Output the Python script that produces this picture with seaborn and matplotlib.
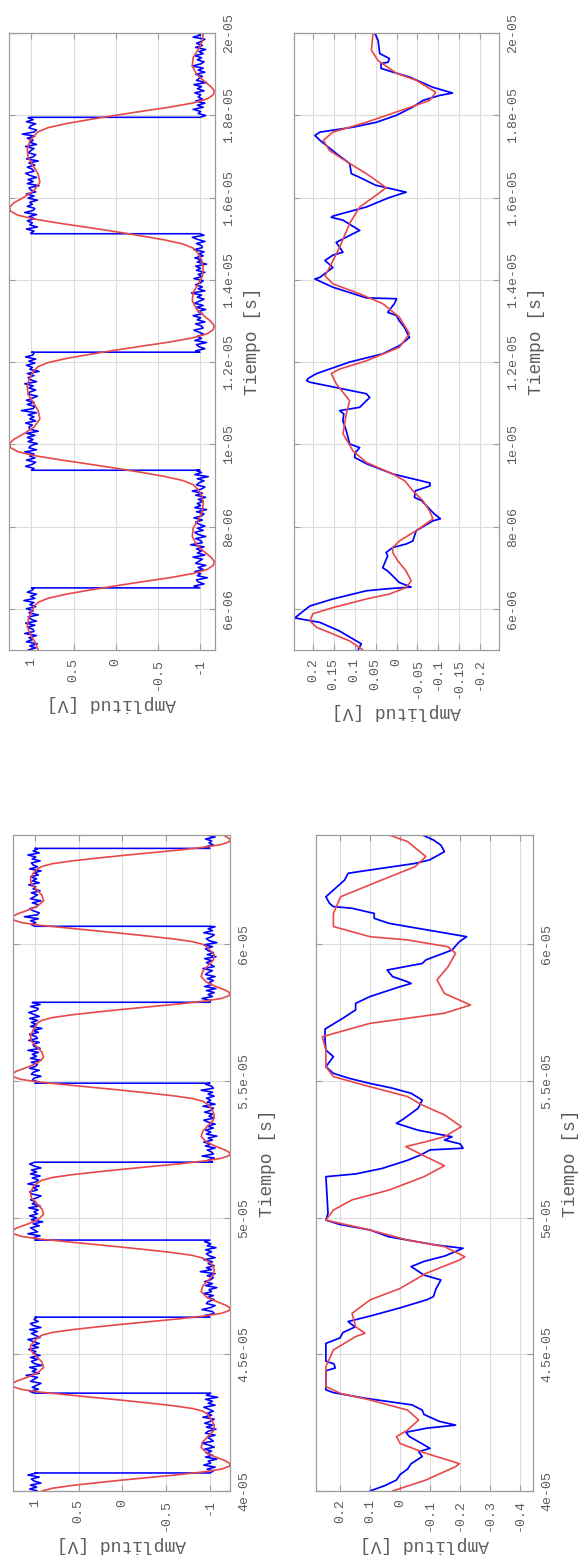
import numpy as np
import matplotlib
matplotlib.use("Agg")
import matplotlib.pyplot as plt
from matplotlib.ticker import FixedLocator, FixedFormatter
import seaborn as sns

# ---------------- data (times in microseconds, amplitudes in volts) ----------------
# square-wave record, 5..20 us: edge times and ripple (hundredths of a volt)
flancos_c = [6.51, 9.37, 12.24, 15.12, 17.95]
ruido_c = [4, -5, 2, -7, 6, -1, 3, -6, 8, -3, -2, 5, -4, 7, -6, 1, 4, -8, 3, -2, 6, -5, 2, -3, 9, -4, 1, -6, 5, -1,
           -3, 7, -5, 2, 4, -9, 3, -1, 6, -4, 2, -7, 5, 1, -3, 8, -6, 3, -2, 4, -5, 11, -3, -1, 5, -7, 2, 6, -4, 3,
           -6, 1, 5, -3, 7, -2, -5, 4, -8, 6, -1, 3, -4, 2, -7, 5, -3, 9, -2, -6, 4, 1, -5, 3, -10, 6, -2, 4, -3, 7,
           -1, -5, 6, -4, 2, -3, 8, -6, 3, 1, -7, 4, -2, 5, -4, 6, -8, 2, 3, -1, 7, -5, 2, -3, 4, -6, 12, -2, -4, 5,
           -3, 6, -1, -7, 4, 2, -5, 3, -2, 8, -6, 1, 4, -3, 5, -9, 2, -1, 6, -4, 3, -5, 7, -2, -3, 5, -6, 1, 4, -8,
           6, -2, 3, -5, 1, 7, -4, -2, 5, -6, 3, -1, 8, -3, 2, -7, 4, -4, 6, 1, -5, 3, -2, 10, -6, 2, -3, 5, -1, -4,
           7, -3, 2, -6, 4, -1, 5, -8, 3, -2, 6, -4, 1, -5, 7, -3, -2, 4, -6, 3, 9, -5, 1, -3, 6, -7, 2, -1, 5, -4,
           3, -6, 8, -2, -4, 5, -1, 2, -7, 4, -3, 6, -5, 1, 3, -9, 5, -2, 4, -6, 2, 7, -3, -1, 5, -4, 3, -8, 6, -2,
           -5, 4, 1, -3, 7, -6, 2, -2, 5, -4, 11, -3, -6, 3, 1, -5, 6, -2, 4, -7, 2, -1, 8, -4, 3, -6, 5, -3, 2, -1,
           6, -5, 3, -2, 7, -8, 4, 1, -3, 5, -6, 2, -4, 9, -1, -5, 3, -2, 6, -4, 1, -7, 5, -3, 4, -2, -6, 8, -1, 3]
t_rojo_c = [5.0, 5.2, 5.4, 5.6, 5.8,
            6.06, 6.16, 6.26, 6.36, 6.46, 6.56, 6.66, 6.76, 6.86, 6.96, 7.06, 7.16, 7.26, 7.41, 7.56, 7.76, 7.96, 8.16, 8.36, 8.56, 8.76,
            8.92, 9.02, 9.12, 9.22, 9.32, 9.42, 9.52, 9.62, 9.72, 9.82, 9.92, 10.02, 10.12, 10.27, 10.42, 10.62, 10.82, 11.02, 11.22, 11.42, 11.62,
            11.79, 11.89, 11.99, 12.09, 12.19, 12.29, 12.39, 12.49, 12.59, 12.69, 12.79, 12.89, 12.99, 13.14, 13.29, 13.49, 13.69, 13.89, 14.09, 14.29, 14.49,
            14.67, 14.77, 14.87, 14.97, 15.07, 15.17, 15.27, 15.37, 15.47, 15.57, 15.67, 15.77, 15.87, 16.02, 16.17, 16.37, 16.57, 16.77, 16.97, 17.17, 17.37,
            17.50, 17.60, 17.70, 17.80, 17.90, 18.00, 18.10, 18.20, 18.30, 18.40, 18.50, 18.60, 18.70, 18.85, 19.00, 19.20, 19.40, 19.60, 19.80, 20.00]
v_rojo_c = [0.92, 0.96, 1.02, 1.05, 1.03,
            0.97, 0.92, 0.80, 0.58, 0.30, 0.0, -0.32, -0.65, -0.92, -1.09, -1.16, -1.17, -1.13, -1.04, -0.96, -0.91, -0.92, -0.98, -1.03, -1.04, -1.02,
            -0.97, -0.92, -0.80, -0.58, -0.30, 0.0, 0.32, 0.65, 0.95, 1.16, 1.25, 1.26, 1.21, 1.08, 0.97, 0.90, 0.92, 0.98, 1.04, 1.05, 1.02,
            0.97, 0.92, 0.80, 0.58, 0.30, 0.0, -0.32, -0.65, -0.92, -1.09, -1.16, -1.17, -1.13, -1.04, -0.96, -0.91, -0.92, -0.98, -1.03, -1.04, -1.02,
            -0.97, -0.92, -0.80, -0.58, -0.30, 0.0, 0.32, 0.65, 0.95, 1.16, 1.25, 1.26, 1.21, 1.08, 0.97, 0.90, 0.92, 0.98, 1.04, 1.05, 1.02,
            0.97, 0.92, 0.80, 0.58, 0.30, 0.0, -0.32, -0.65, -0.92, -1.09, -1.16, -1.17, -1.13, -1.04, -0.96, -0.91, -0.92, -0.98, -1.03, -1.04]

# low-level record, 5..20 us
t_azul_d = [5.0, 5.15, 5.22, 5.46, 5.67, 5.78, 5.88, 6.07, 6.24, 6.44, 6.49, 6.53, 6.64, 6.92, 7.0, 7.29, 7.37, 7.49, 7.58, 7.65,
            7.9, 8.14, 8.19, 8.31, 8.45, 8.63, 8.71, 8.87, 8.99, 9.06, 9.11, 9.28, 9.53, 9.68, 9.79, 9.92, 10.01, 10.33, 10.57, 10.74,
            10.82, 10.9, 11.14, 11.23, 11.51, 11.55, 11.61, 11.72, 12.0, 12.2, 12.4, 12.6, 12.84, 13.0, 13.13, 13.21, 13.42, 13.54, 13.56, 13.82,
            14.02, 14.06, 14.3, 14.47, 14.6, 14.67, 14.91, 15.12, 15.2, 15.45, 15.52, 15.55, 15.77, 16.0, 16.13, 16.3, 16.49, 16.58, 16.83, 17.07,
            17.39, 17.51, 17.59, 17.71, 17.83, 18.0, 18.2, 18.36, 18.48, 18.54, 18.68, 18.93, 19.05, 19.14, 19.26, 19.29, 19.38, 19.5, 19.82, 20.0]
v_azul_d = [0.092, 0.084, 0.096, 0.136, 0.183, 0.243, 0.231, 0.207, 0.152, 0.072, 0.02, -0.035, -0.007, 0.021, 0.033, 0.021, 0.025, 0.009, -0.024, -0.039,
            -0.047, -0.087, -0.105, -0.09, -0.077, -0.06, -0.043, -0.045, -0.08, -0.08, -0.06, 0.009, 0.072, 0.10, 0.099, 0.088, 0.112, 0.12, 0.128, 0.126,
            0.136, 0.088, 0.064, 0.072, 0.207, 0.215, 0.21, 0.191, 0.112, 0.033, -0.007, -0.031, -0.019, -0.007, 0.0, 0.021, 0.005, 0.0, 0.072, 0.152,
            0.195, 0.183, 0.152, 0.171, 0.152, 0.128, 0.144, 0.104, 0.088, 0.128, 0.156, 0.152, 0.072, 0.017, -0.023, 0.05, 0.088, 0.108, 0.112, 0.144,
            0.183, 0.195, 0.183, 0.104, 0.048, 0.0, -0.039, -0.063, -0.102, -0.134, -0.087, -0.031, 0.009, 0.037, 0.037, 0.02, 0.017, 0.04, 0.044, 0.052]
t_rojo_d = [5.0, 5.22, 5.39, 5.55, 5.71, 5.88, 6.03, 6.24, 6.36, 6.52, 6.68, 6.92, 7.17, 7.37, 7.49, 7.65, 7.9, 8.19, 8.38, 8.63,
            8.87, 9.11, 9.28, 9.56, 9.84, 10.26, 10.74, 11.06, 11.47, 11.72, 11.83, 12.03, 12.36, 12.69, 13.09, 13.42, 13.66, 13.9, 14.1, 14.3,
            14.79, 15.37, 15.77, 16.09, 16.24, 16.41, 16.58, 16.83, 17.14, 17.39, 17.59, 17.83, 18.16, 18.36, 18.56, 18.85, 19.02, 19.33, 19.58, 20.0]
v_rojo_d = [0.080, 0.112, 0.152, 0.191, 0.207, 0.200, 0.152, 0.072, 0.017, -0.023, -0.035, -0.023, -0.003, 0.009, 0.009, -0.007, -0.047, -0.087, -0.079, -0.063,
            -0.039, -0.020, 0.009, 0.072, 0.104, 0.128, 0.120, 0.112, 0.144, 0.156, 0.136, 0.072, -0.007, -0.031, -0.007, 0.033, 0.088, 0.152, 0.171, 0.160,
            0.136, 0.112, 0.088, 0.044, 0.025, 0.048, 0.072, 0.112, 0.160, 0.175, 0.152, 0.072, -0.023, -0.079, -0.094, -0.047, 0.000, 0.044, 0.060, 0.056]

# square-wave record, 40..64 us: edge times and ripple (hundredths of a volt)
flancos_a = [40.66, 43.58, 46.36, 49.18, 52.03, 54.92, 57.88, 60.66, 63.51]
ruido_a = [-3, 6, -2, 5, -7, 1, 4, -5, 8, -2, -4, 3, -6, 7, -1, 2, -8, 5, -3, 4, -2, 6, -5, 1, 9, -4, -1, 3, -6, 5,
           2, -7, 4, -3, 6, -1, -5, 8, -2, 3, -4, 1, 7, -6, 2, -3, 5, -9, 4, -1, 6, -4, 3, -2, -7, 5, 1, -3, 10, -5,
           3, -2, 6, -8, 1, 4, -3, 5, -6, 2, -1, 7, -4, 3, -5, 2, 8, -6, -1, 4, -3, 6, -7, 2, 5, -4, 1, -2, 6, -5,
           -3, 9, -1, -6, 4, 2, -5, 3, -4, 7, -2, 1, -8, 5, -3, 6, -1, -4, 3, -6, 11, -2, 4, -5, 2, -3, 7, -6, 1, 4,
           -2, 5, -7, 3, -1, 6, -4, 2, -6, 8, -3, 1, 5, -5, 2, -9, 4, -2, 6, -3, 1, -4, 7, -6, 3, -1, 5, -2, -7, 4,
           6, -3, 2, -5, 8, -1, -4, 3, -6, 5, -2, 4, -7, 1, 6, -3, 2, -5, 9, -4, -2, 3, -6, 5, -1, 7, -3, 2, -8, 4,
           -1, 5, -4, 3, -6, 2, 7, -5, 1, -3, 6, -2, -4, 8, -6, 3, -1, 4, -5, 2, -3, 10, -4, -2, 5, -6, 3, 1, -7, 4,
           2, -5, 6, -1, -3, 4, -7, 5, -2, 3, -4, 8, -6, 1, 2, -5, 7, -3, -1, 6, -4, 2, -8, 5, -2, 4, -3, 6, -5, 1,
           7, -2, -4, 5, -6, 3, -1, 9, -3, 2, -5, 4, -7, 6, -2, 1, -4, 3, -6, 5, 2, -3, 8, -5, -1, 4, -2, 6, -7, 3,
           -4, 2, 5, -3, 6, -8, 1, 4, -2, -5, 7, -3, 2, -6, 4, -1, 5, -4, 12, -3, -5, 2, 6, -2, -4, 3, -7, 5, 1, -3,
           4, -6, 2, -1, 7, -5, 3, -2, 5, -4, 1, -7, 6, -3, 2, 4, -6, 3, -1, 8, -5, 2, -3, 6, -4, 1, -2, 5, -6, 3]
t_rojo_a = [40.0, 40.1, 40.2, 40.3, 40.4, 40.5, 40.6, 40.7, 40.8, 40.9, 41.0, 41.1, 41.25, 41.4, 41.6, 41.8, 42.0, 42.2, 42.4, 42.6,
            42.82, 42.92, 43.02, 43.12, 43.22, 43.32, 43.42, 43.52, 43.62, 43.72, 43.82, 43.92, 44.02, 44.17, 44.32, 44.52, 44.72, 44.92, 45.12, 45.32,
            45.60, 45.70, 45.80, 45.90, 46.00, 46.10, 46.20, 46.30, 46.40, 46.50, 46.60, 46.70, 46.80, 46.95, 47.10, 47.30, 47.50, 47.70, 47.90, 48.10, 48.30,
            48.42, 48.52, 48.62, 48.72, 48.82, 48.92, 49.02, 49.12, 49.22, 49.32, 49.42, 49.52, 49.62, 49.77, 49.92, 50.12, 50.32, 50.52, 50.72, 50.92, 51.12,
            51.27, 51.37, 51.47, 51.57, 51.67, 51.77, 51.87, 51.97, 52.07, 52.17, 52.27, 52.37, 52.47, 52.62, 52.77, 52.97, 53.17, 53.37, 53.57, 53.77, 53.97,
            54.16, 54.26, 54.36, 54.46, 54.56, 54.66, 54.76, 54.86, 54.96, 55.06, 55.16, 55.26, 55.36, 55.51, 55.66, 55.86, 56.06, 56.26, 56.46, 56.66, 56.86,
            57.12, 57.22, 57.32, 57.42, 57.52, 57.62, 57.72, 57.82, 57.92, 58.02, 58.12, 58.22, 58.32, 58.47, 58.62, 58.82, 59.02, 59.22, 59.42, 59.62,
            59.90, 60.00, 60.10, 60.20, 60.30, 60.40, 60.50, 60.60, 60.70, 60.80, 60.90, 61.00, 61.10, 61.25, 61.40, 61.60, 61.80, 62.00, 62.20, 62.40, 62.60,
            62.75, 62.85, 62.95, 63.05, 63.15, 63.25, 63.35, 63.45, 63.55, 63.65, 63.75, 63.85, 63.95, 64.0]
v_rojo_a = [0.92, 0.80, 0.58, 0.30, 0.0, -0.32, -0.65, -0.93, -1.13, -1.22, -1.23, -1.18, -1.06, -0.96, -0.90, -0.92, -0.98, -1.04, -1.05, -1.02,
            -0.97, -0.92, -0.80, -0.58, -0.30, 0.0, 0.32, 0.65, 0.95, 1.16, 1.25, 1.26, 1.21, 1.08, 0.97, 0.90, 0.92, 0.98, 1.04, 1.05,
            0.97, 0.92, 0.80, 0.58, 0.30, 0.0, -0.32, -0.65, -0.93, -1.13, -1.22, -1.23, -1.18, -1.06, -0.96, -0.90, -0.92, -0.98, -1.04, -1.05, -1.02,
            -0.97, -0.92, -0.80, -0.58, -0.30, 0.0, 0.32, 0.65, 0.95, 1.16, 1.25, 1.26, 1.21, 1.08, 0.97, 0.90, 0.92, 0.98, 1.04, 1.05, 1.02,
            0.97, 0.92, 0.80, 0.58, 0.30, 0.0, -0.32, -0.65, -0.93, -1.13, -1.22, -1.23, -1.18, -1.06, -0.96, -0.90, -0.92, -0.98, -1.04, -1.05, -1.02,
            -0.97, -0.92, -0.80, -0.58, -0.30, 0.0, 0.32, 0.65, 0.95, 1.16, 1.25, 1.26, 1.21, 1.08, 0.97, 0.90, 0.92, 0.98, 1.04, 1.05, 1.02,
            0.97, 0.92, 0.80, 0.58, 0.30, 0.0, -0.32, -0.65, -0.93, -1.13, -1.22, -1.23, -1.18, -1.06, -0.96, -0.90, -0.92, -0.98, -1.04, -1.05,
            -0.97, -0.92, -0.80, -0.58, -0.30, 0.0, 0.32, 0.65, 0.95, 1.16, 1.25, 1.26, 1.21, 1.08, 0.97, 0.90, 0.92, 0.98, 1.04, 1.05, 1.02,
            0.97, 0.92, 0.80, 0.58, 0.30, 0.0, -0.32, -0.65, -0.93, -1.13, -1.22, -1.23, -1.18, -1.15]

# low-level record, 40..64 us
t_azul_b = [40.0, 40.2, 40.4, 40.6, 40.8, 41.0, 41.26, 41.44, 41.56, 41.75, 42.0, 42.15, 42.3, 42.41, 42.55, 42.8, 42.96, 43.15, 43.4, 43.6,
            43.7, 44.4, 44.5, 44.65, 44.75, 45.4, 45.6, 45.8, 46.0, 46.2, 46.4, 46.7, 47.0, 47.11, 47.4, 47.72, 47.9, 48.21, 48.4, 48.6,
            48.88, 49.0, 49.3, 49.55, 49.75, 49.91, 50.16, 51.5, 51.6, 51.8, 52.1, 52.3, 52.48, 52.54, 52.7, 52.84, 52.96, 53.2, 53.45, 53.6,
            54.0, 54.3, 54.55, 54.75, 54.91, 55.1, 55.28, 55.52, 55.89, 56.13, 56.5, 56.9, 57.1, 57.3, 57.6, 57.84, 58.09, 58.45, 58.57, 58.63,
            58.82, 59.06, 59.3, 59.43, 59.79, 60.1, 60.28, 60.65, 60.77, 60.95, 61.13, 61.32, 61.38, 61.5, 61.74, 62.35, 62.6, 62.72, 62.96, 63.09,
            63.39, 63.63, 63.82, 64.0]
v_azul_b = [0.10, 0.05, 0.012, 0.0, -0.025, -0.037, -0.074, -0.062, -0.10, -0.07, -0.03, -0.02, -0.09, -0.185, -0.13, -0.08, -0.074, -0.04, 0.12, 0.222,
            0.247, 0.247, 0.216, 0.22, 0.247, 0.247, 0.20, 0.19, 0.15, 0.173, 0.10, 0.0, -0.09, -0.111, -0.12, -0.136, -0.08, -0.037, -0.08, -0.15,
            -0.21, -0.12, 0.037, 0.10, 0.2, 0.247, 0.24, 0.247, 0.148, 0.06, -0.025, -0.07, -0.10, -0.21, -0.20, -0.148, -0.173, -0.06, 0.012, -0.01,
            -0.06, -0.074, -0.037, 0.03, 0.10, 0.17, 0.222, 0.247, 0.222, 0.247, 0.25, 0.25, 0.22, 0.19, 0.148, 0.148, 0.10, 0.0, -0.037, -0.025,
            0.025, 0.043, -0.074, -0.086, -0.173, -0.198, -0.222, -0.025, 0.037, 0.086, 0.086, 0.16, 0.222, 0.235, 0.247, 0.185, 0.173, 0.10, -0.05, -0.099,
            -0.148, -0.136, -0.111, -0.074]
t_rojo_b = [40.0, 40.4, 40.89, 41.0, 41.38, 41.74, 41.99, 42.23, 42.6, 42.96, 43.33, 43.57, 43.82, 44.55, 45.16, 45.65, 45.77, 46.01, 46.5, 46.99,
            47.41, 47.96, 48.45, 48.57, 48.94, 49.18, 49.55, 49.91, 50.28, 50.65, 51.01, 51.5, 51.9, 52.23, 52.6, 52.78, 52.96, 53.33, 53.76, 54.12,
            54.43, 54.79, 55.16, 55.52, 56.13, 56.62, 57.11, 57.48, 57.78, 58.2, 58.7, 59.18, 59.67, 59.91, 60.16, 60.28, 60.65, 61.13, 61.74, 62.35,
            62.84, 63.21, 63.76, 64.0]
v_rojo_b = [0.025, -0.086, -0.185, -0.198, -0.086, 0.0, 0.012, -0.025, -0.062, -0.025, 0.10, 0.198, 0.247, 0.247, 0.222, 0.148, 0.117, 0.148, 0.16, 0.10,
            0.0, -0.086, -0.198, -0.216, -0.148, -0.025, 0.10, 0.247, 0.222, 0.16, 0.037, -0.08, -0.148, -0.086, -0.019, -0.086, -0.148, -0.204, -0.148, -0.074,
            -0.025, 0.10, 0.222, 0.247, 0.247, 0.259, 0.10, -0.148, -0.235, -0.148, -0.123, -0.16, -0.185, -0.16, -0.025, 0.10, 0.222, 0.222, 0.198, 0.062,
            -0.05, -0.086, -0.025, 0.037]

# axis ticks and labels
ticks_t_cd = [6, 8, 10, 12, 14, 16, 18, 20]
etiq_t_cd = ["6e-06", "8e-06", "1e-05", "1.2e-05", "1.4e-05", "1.6e-05", "1.8e-05", "2e-05"]
ticks_t_ab = [40, 45, 50, 55, 60]
etiq_t_ab = ["4e-05", "4.5e-05", "5e-05", "5.5e-05", "6e-05"]
ticks_v_cuadrada = [1, 0.5, 0, -0.5, -1]
etiq_v_cuadrada = ["1", "0.5", "0", "-0.5", "-1"]
ticks_v_d = [0.2, 0.15, 0.1, 0.05, 0, -0.05, -0.1, -0.15, -0.2]
etiq_v_d = ["0.2", "0.15", "0.1", "0.05", "0", "-0.05", "-0.1", "-0.15", "-0.2"]
ticks_v_b = [0.2, 0.1, 0, -0.1, -0.2, -0.3, -0.4]
etiq_v_b = ["0.2", "0.1", "0", "-0.1", "-0.2", "-0.3", "-0.4"]

# ---------------- style ----------------
sns.set_theme(style="white")
plt.rcParams["font.family"] = ["Liberation Mono", "DejaVu Sans Mono"]
GRIS_TEXTO = "#5c5c5c"
GRIS_MARCO = "#9c9c9c"
GRIS_REJILLA = "#dcdcdc"
AZUL = "#0000ff"
ROJO = "#e8484a"
US = 1e-6


def onda_cuadrada(t0, t1, flancos, nivel0, ruido):
    """Two-level record with its recorded ripple; vertical jumps at each edge."""
    ts = np.linspace(t0, t1, len(ruido))
    niv = nivel0 * (-1.0) ** np.searchsorted(flancos, ts)
    puntos = list(zip(ts, niv + np.asarray(ruido) / 100.0))
    for k, tf in enumerate(flancos):
        antes = nivel0 * (-1.0) ** k
        puntos.append((tf - 1e-6, antes))
        puntos.append((tf, -antes))
    puntos.sort(key=lambda p: p[0])
    t, v = zip(*puntos)
    return np.array(t), np.array(v)


def panel(ax, t_az, v_az, t_ro, v_ro, tlim, vlim, vt, vl, tt, tl, lw_az):
    sns.lineplot(x=v_az, y=np.asarray(t_az) * US, ax=ax, color=AZUL, lw=lw_az,
                 sort=False, estimator=None, orient="y")
    sns.lineplot(x=v_ro, y=np.asarray(t_ro) * US, ax=ax, color=ROJO, lw=1.2,
                 sort=False, estimator=None, orient="y")
    ax.set_xlim(vlim[1], vlim[0])
    ax.set_ylim(tlim[0] * US, tlim[1] * US)
    ax.xaxis.set_major_locator(FixedLocator(vt))
    ax.xaxis.set_major_formatter(FixedFormatter(vl))
    ax.yaxis.set_major_locator(FixedLocator([x * US for x in tt]))
    ax.yaxis.set_major_formatter(FixedFormatter(tl))
    ax.yaxis.tick_right()
    ax.yaxis.set_label_position("right")
    ax.grid(True, color=GRIS_REJILLA, lw=0.8)
    ax.set_axisbelow(True)
    ax.tick_params(axis="both", direction="in", length=4, width=0.8, color=GRIS_MARCO,
                   labelsize=9.5, labelcolor=GRIS_TEXTO, pad=6)
    ax.tick_params(axis="x", bottom=True, top=True, labelrotation=90)
    ax.tick_params(axis="y", left=True, right=True, labelleft=False, labelright=True, labelrotation=90)
    for lab in ax.get_yticklabels():
        lab.set_verticalalignment("center")
    for s in ax.spines.values():
        s.set_color(GRIS_MARCO)
        s.set_linewidth(0.9)
    ax.set_xlabel("Amplitud [V]", rotation=180, fontsize=13, color=GRIS_TEXTO, labelpad=3)
    ax.set_ylabel("Tiempo [s]", rotation=90, fontsize=13, color=GRIS_TEXTO, labelpad=6)


W, H = 578, 1560
fig = plt.figure(figsize=(W / 100, H / 100), dpi=100)


def caja(x0, y0, x1, y1):
    return [x0 / W, 1 - y1 / H, (x1 - x0) / W, (y1 - y0) / H]


ax_c = fig.add_axes(caja(9, 33, 215, 650))
ax_d = fig.add_axes(caja(294, 33, 499, 650))
ax_a = fig.add_axes(caja(13, 835, 230, 1491))
ax_b = fig.add_axes(caja(316, 835, 533, 1491))

t_az_c, v_az_c = onda_cuadrada(5.0, 20.0, flancos_c, 1.0, ruido_c)
t_az_a, v_az_a = onda_cuadrada(40.0, 64.0, flancos_a, 1.0, ruido_a)

panel(ax_c, t_az_c, v_az_c, t_rojo_c, v_rojo_c, (5.0, 20.0), (-1.18, 1.267),
      ticks_v_cuadrada, etiq_v_cuadrada, ticks_t_cd, etiq_t_cd, 1.15)
panel(ax_d, t_azul_d, v_azul_d, t_rojo_d, v_rojo_d, (5.0, 20.0), (-0.245, 0.245),
      ticks_v_d, etiq_v_d, ticks_t_cd, etiq_t_cd, 1.25)
panel(ax_a, t_az_a, v_az_a, t_rojo_a, v_rojo_a, (40.0, 64.0), (-1.23, 1.25),
      ticks_v_cuadrada, etiq_v_cuadrada, ticks_t_ab, etiq_t_ab, 1.15)
panel(ax_b, t_azul_b, v_azul_b, t_rojo_b, v_rojo_b, (40.0, 64.0), (-0.443, 0.28),
      ticks_v_b, etiq_v_b, ticks_t_ab, etiq_t_ab, 1.25)

fig.savefig("out.png", dpi=100, facecolor="white")
